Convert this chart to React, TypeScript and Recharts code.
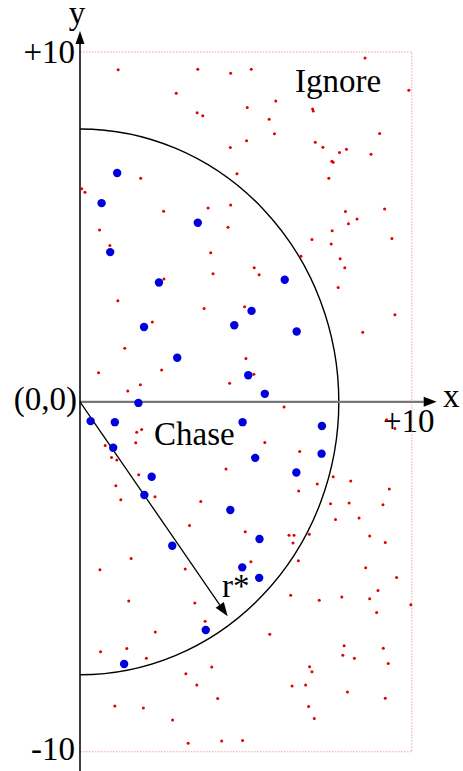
import React from 'react';
import { ScatterChart, Scatter, XAxis, YAxis, ReferenceArea, ReferenceLine } from 'recharts';

// blue points inside the chase zone
const chaseX = [1.12, 0.65, 3.55, 0.91, 2.38, 1.93, 4.65, 2.93, 5.07, 5.17, 6.17, 6.53, 5.57, 1.76, 0.32, 1.05, 4.90, 1.00, 2.16, 1.94, 4.53, 2.78, 4.89, 7.29, 5.28, 7.28, 6.52, 5.41, 5.40, 3.79, 1.33];
const chaseY = [6.54, 5.68, 5.12, 4.28, 3.41, 2.14, 2.19, 1.26, 0.76, 2.60, 3.49, 2.01, 0.23, -0.03, -0.55, -0.58, -0.58, -1.31, -2.14, -2.66, -3.09, -4.11, -4.73, -0.69, -1.60, -1.48, -2.02, -3.92, -5.03, -6.52, -7.49];

// small red points
const ignoreX = [
  1.15, 3.55, 4.54, 2.90, 5.04, 3.53, 3.70, 4.53, 5.02, 4.73, 1.83, 0.05, 0.15, 3.86, 4.54, 2.52,
  8.59, 5.16, 9.91, 5.90, 5.70, 7.01, 7.03, 5.86, 9.03, 7.09, 7.32, 7.82, 8.03, 8.77, 7.59, 7.63, 7.50, 8.00, 9.18, 8.35, 8.09,
  0.59, 4.46, 0.90, 3.94, 4.01, 2.53, 1.14, 3.74, 4.96, 2.18, 1.35, 5.00, 0.56, 2.46, 1.82, 1.44, 4.51,
  7.60, 9.40, 6.99, 7.57, 6.66, 7.84, 7.98, 5.25, 5.40, 7.78, 9.49, 8.52, 5.24,
  1.71, 1.86, 1.68, 0.76, 0.95, 1.11, 1.77, 4.40, 1.08, 2.26, 1.23, 3.64, 3.30, 4.98, 1.54, 0.60, 3.17,
  6.15, 9.24, 9.49, 5.57, 6.62, 7.63, 7.15, 8.16, 6.59, 9.32, 7.55, 8.11, 9.13, 8.41, 7.70, 6.30, 6.45, 6.91, 6.42, 8.73, 9.20, 5.15, 6.58, 8.61,
  1.47, 3.46, 3.77, 2.27, 0.62, 1.41, 2.00, 3.97, 3.19, 3.52, 4.15, 1.05, 1.91, 2.79, 3.26, 4.27, 4.90,
  9.54, 6.35, 7.21, 7.89, 8.73, 8.98, 9.97, 8.94, 5.72, 7.96, 9.14, 7.92, 8.27, 9.29, 6.92, 6.99, 6.39, 6.80, 8.06, 9.20, 6.89, 7.06,
];
const ignoreY = [
  9.49, 9.51, 9.39, 8.82, 8.41, 8.26, 8.18, 7.27, 7.46, 6.52, 6.39, 6.09, 5.99, 5.54, 5.63, 5.45,
  9.83, 9.51, 8.91, 8.60, 8.08, 8.37, 8.31, 7.66, 7.67, 7.42, 7.28, 7.13, 7.22, 7.08, 6.88, 6.85, 6.39, 5.44, 5.51, 5.23, 5.09,
  4.91, 4.99, 4.47, 4.26, 3.66, 3.51, 2.89, 2.67, 2.72, 2.28, 1.53, 1.24, 0.83, 0.91, 0.49, 0.31, 0.53,
  4.89, 4.67, 4.64, 4.51, 4.16, 4.09, 3.83, 3.83, 3.63, 3.27, 2.49, 1.99, 0.79,
  -0.87, -0.79, -1.17, -1.25, -1.59, -1.66, -2.08, -1.92, -2.40, -2.71, -2.80, -2.85, -3.53, -3.71, -4.48, -4.80, -4.78,
  -0.15, -0.51, -0.76, -1.16, -1.42, -2.14, -2.35, -2.26, -2.55, -2.49, -2.91, -2.89, -2.94, -3.32, -3.36, -3.81, -3.81, -3.78, -4.03, -3.83, -4.02, -4.57, -4.54, -4.74,
  -5.69, -5.75, -6.27, -6.58, -7.14, -7.05, -7.33, -7.58, -7.77, -8.09, -8.48, -8.69, -8.75, -9.09, -9.76, -9.69, -9.68,
  -5.02, -5.53, -5.67, -5.58, -5.63, -5.39, -5.80, -6.02, -6.64, -6.97, -7.04, -7.24, -7.33, -7.48, -7.57, -7.71, -8.12, -8.09, -8.29, -8.47, -8.71, -9.05,
];

const R_STAR = 7.8;
const R_TIP = { x: 4.45, y: -6.13 };
const X_MAX = 10;
const Y_LIM = 10;

const chaseData = chaseX.map((x, i) => ({ x, y: chaseY[i] }));
const ignoreData = ignoreX.map((x, i) => ({ x, y: ignoreY[i] }));

const FONT = '"Liberation Serif", "Times New Roman", serif';

function arrowLine(color: string, width: number, head: number, half: number) {
  return (p: any) => {
    const { x1, y1, x2, y2 } = p;
    const dx = x2 - x1;
    const dy = y2 - y1;
    const len = Math.sqrt(dx * dx + dy * dy) || 1;
    const ux = dx / len;
    const uy = dy / len;
    const bx = x2 - ux * head;
    const by = y2 - uy * head;
    const pts = `${x2},${y2} ${bx - uy * half},${by + ux * half} ${bx + uy * half},${by - ux * half}`;
    return (
      <g>
        <line x1={x1} y1={y1} x2={bx} y2={by} stroke={color} strokeWidth={width} />
        <polygon points={pts} fill="#000" />
      </g>
    );
  };
}

function halfCircle(p: any) {
  const cx = p.x + p.width / 2;
  const cy = p.y + p.height / 2;
  const rx = p.width / 2;
  const ry = p.height / 2;
  return (
    <path
      d={`M ${cx} ${cy - ry} A ${rx} ${ry} 0 0 1 ${cx} ${cy + ry}`}
      fill="none"
      stroke="#000"
      strokeWidth={1.4}
    />
  );
}

const label = { fontFamily: FONT, fontSize: 33, fill: '#000' };

export default function App() {
  return (
    <div style={{ position: 'absolute', left: 0, top: 0, width: 463, height: 771, background: '#fff' }}>
      <ScatterChart width={463} height={771} margin={{ top: 24, right: 18, bottom: 0, left: 80 }}>
        <XAxis type="number" dataKey="x" domain={[0, 11]} hide allowDataOverflow />
        <YAxis type="number" dataKey="y" domain={[-10.55, 10.8]} hide allowDataOverflow />
        <ReferenceArea
          x1={0}
          x2={X_MAX}
          y1={-Y_LIM}
          y2={Y_LIM}
          fill="none"
          stroke="#f0a0a0"
          strokeWidth={1}
          strokeDasharray="1.5 1.5"
          ifOverflow="visible"
        />
        <ReferenceArea
          x1={-R_STAR}
          x2={R_STAR}
          y1={-R_STAR}
          y2={R_STAR}
          ifOverflow="visible"
          shape={halfCircle}
        />
        <ReferenceLine
          segment={[{ x: 0, y: 0 }, { x: 10.75, y: 0 }]}
          ifOverflow="visible"
          shape={arrowLine('#777', 2.2, 13, 5)}
        />
        <ReferenceLine
          segment={[{ x: 0, y: -10.55 }, { x: 0, y: 10.6 }]}
          ifOverflow="visible"
          shape={arrowLine('#000', 1.5, 13, 4.5)}
        />
        <ReferenceLine
          segment={[{ x: 0, y: 0 }, R_TIP]}
          ifOverflow="visible"
          shape={arrowLine('#000', 1.3, 14, 5)}
        />
        <Scatter
          data={ignoreData}
          isAnimationActive={false}
          shape={(p: any) => <circle cx={p.cx} cy={p.cy} r={1.5} fill="#e00000" />}
        />
        <Scatter
          data={chaseData}
          isAnimationActive={false}
          shape={(p: any) => <circle cx={p.cx} cy={p.cy} r={4.2} fill="#0000dd" />}
        />
        <text x={77} y={24} textAnchor="middle" {...label}>y</text>
        <text x={75} y={63} textAnchor="end" {...label}>+10</text>
        <text x={295} y={92} {...label}>Ignore</text>
        <text x={77} y={410} textAnchor="end" {...label}>(0,0)</text>
        <text x={443} y={407} {...label}>x</text>
        <text x={383} y={432} {...label}>+10</text>
        <text x={154} y={445} {...label}>Chase</text>
        <text x={222} y={597} {...label}>r*</text>
        <text x={75} y={760} textAnchor="end" {...label}>-10</text>
      </ScatterChart>
    </div>
  );
}
